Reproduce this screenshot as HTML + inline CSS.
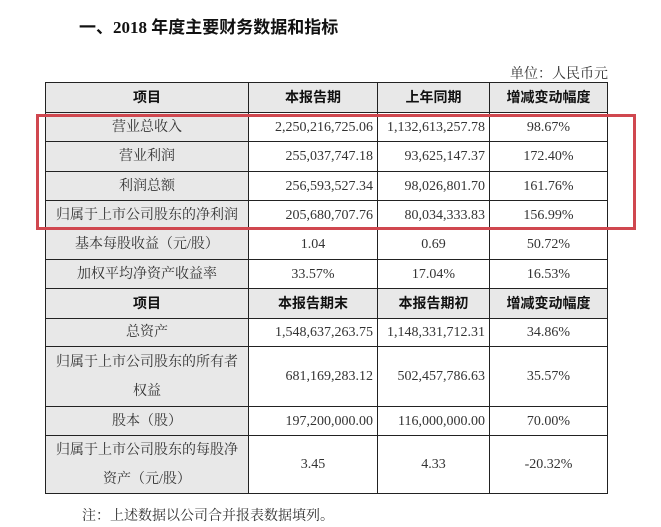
<!DOCTYPE html>
<html><head><meta charset="utf-8"><style>
body{margin:0;width:661px;height:527px;background:#fff;position:relative;overflow:hidden;font-family:"Liberation Serif","Noto Serif CJK SC",serif;color:#333;}
.t{position:absolute;white-space:nowrap;}
.c{position:absolute;box-sizing:border-box;border-right:1px solid #222;border-bottom:1px solid #222;display:flex;align-items:center;justify-content:center;font-size:14px;text-align:center;line-height:29px;}
.g{background:#e8e8e8;}
.b{font-weight:bold;font-family:"Liberation Sans","Noto Sans CJK SC",sans-serif;color:#111;font-size:14px;}
.r{justify-content:flex-end;padding-right:4px;}
</style></head><body>
<div class="t" style="left:79px;top:13px;font-size:17px;font-weight:bold;font-family:'Liberation Serif','Noto Sans CJK SC',serif;color:#111;">一、2018 年度主要财务数据和指标</div>
<div class="t" style="left:510px;top:63px;font-size:14px;">单位：人民币元</div>
<div id="tb"></div>
<div style="position:absolute;left:45px;top:82px;width:563px;height:412px;border-left:1px solid #222;border-top:1px solid #222;box-sizing:border-box;"></div>
<div style="position:absolute;left:36px;top:114px;width:600px;height:116px;border:3px solid #d0474f;box-sizing:border-box;"></div>
<div class="t" style="left:82px;top:505px;font-size:14px;">注：上述数据以公司合并报表数据填列。</div>
<script>
var cols=[46,249,378,490,608];
var rows=[
[83,113,['项目','本报告期','上年同期','增减变动幅度'],1],
[113,142,['营业总收入','2,250,216,725.06','1,132,613,257.78','98.67%']],
[142,172,['营业利润','255,037,747.18','93,625,147.37','172.40%']],
[172,201,['利润总额','256,593,527.34','98,026,801.70','161.76%']],
[201,230,['归属于上市公司股东的净利润','205,680,707.76','80,034,333.83','156.99%']],
[230,260,['基本每股收益（元/股）','1.04','0.69','50.72%']],
[260,289,['加权平均净资产收益率','33.57%','17.04%','16.53%']],
[289,319,['项目','本报告期末','本报告期初','增减变动幅度'],1],
[319,347,['总资产','1,548,637,263.75','1,148,331,712.31','34.86%']],
[347,407,['归属于上市公司股东的所有者<br>权益','681,169,283.12','502,457,786.63','35.57%']],
[407,436,['股本（股）','197,200,000.00','116,000,000.00','70.00%']],
[436,494,['归属于上市公司股东的每股净<br>资产（元/股）','3.45','4.33','-20.32%']]
];
var h='';
rows.forEach(function(r){
 for(var i=0;i<4;i++){
  var txt=r[2][i];var cls='c';
  if(r[3]||i==0)cls+=' g';
  if(r[3])cls+=' b';
  if(!r[3]&&(i==1||i==2)&&txt.length>8)cls+=' r';
  h+='<div class="'+cls+'" style="left:'+cols[i]+'px;top:'+r[0]+'px;width:'+(cols[i+1]-cols[i])+'px;height:'+(r[1]-r[0])+'px;"><span>'+txt+'</span></div>';
 }
});
document.getElementById('tb').innerHTML=h;
</script>
</body></html>
